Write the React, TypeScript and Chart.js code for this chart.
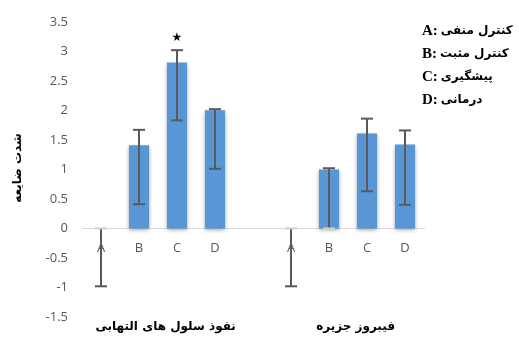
import React, { useEffect, useRef } from "react";
import { Chart, registerables } from "chart.js";

Chart.register(...registerables);

const categories = ["A", "B", "C", "D", "", "A", "B", "C", "D"];
const means = [0, 1.41, 2.81, 2.0, null, 0, 1.0, 1.61, 1.42];
const errHigh = [0, 1.67, 3.02, 2.02, null, 0, 1.02, 1.86, 1.66];
const errLow = [-0.98, 0.41, 1.83, 1.01, null, -0.98, 0, 0.63, 0.4];
const starIndex = [2];
const groupLabels = ["نفوذ سلول های التهابی", "فیبروز جزیره"];
const groupCenters = [1.7, 6.7];
const legendKeys = ["A:", "B:", "C:", "D:"];
const legendTexts = ["کنترل منفی", "کنترل مثبت", "پیشگیری", "درمانی"];
const yTitle = "شدت ضایعه";

const decorPlugin = {
  id: "decor",
  beforeDatasetsDraw(chart: any) {
    const ctx = chart.ctx;
    ctx.save();
    ctx.shadowColor = "rgba(0,0,0,0.35)";
    ctx.shadowBlur = 4;
    ctx.shadowOffsetY = 2;
  },
  afterDatasetsDraw(chart: any) {
    const ctx = chart.ctx;
    ctx.restore();
    const xs = chart.scales.x;
    const ys = chart.scales.y;
    ctx.save();
    for (let i = 0; i < categories.length; i++) {
      if (means[i] === null) continue;
      const x = xs.getPixelForValue(i);
      const yH = ys.getPixelForValue(errHigh[i] as number);
      const yL = ys.getPixelForValue(errLow[i] as number);
      ctx.strokeStyle = "#5a5a5a";
      ctx.lineWidth = 2;
      ctx.beginPath();
      ctx.moveTo(x, yH);
      ctx.lineTo(x, yL);
      ctx.stroke();
      const caps = [errHigh[i] as number, errLow[i] as number];
      caps.forEach((v) => {
        const y = ys.getPixelForValue(v);
        ctx.strokeStyle = v === 0 ? "#cfcfcf" : "#5a5a5a";
        ctx.beginPath();
        ctx.moveTo(x - 6, y);
        ctx.lineTo(x + 6, y);
        ctx.stroke();
      });
    }
    // stars
    ctx.fillStyle = "#000";
    ctx.font = "12px 'DejaVu Sans'";
    ctx.textAlign = "center";
    ctx.textBaseline = "middle";
    starIndex.forEach((i) => {
      const x = xs.getPixelForValue(i);
      const y = ys.getPixelForValue(errHigh[i] as number);
      ctx.fillText("★", x, y - 12);
    });
    // group labels
    ctx.font = "bold 12px 'DejaVu Sans'";
    groupLabels.forEach((t, k) => {
      const x = xs.getPixelForValue(groupCenters[k]);
      ctx.fillText(t, x, 327);
    });
    // y title
    ctx.save();
    ctx.translate(18, 168);
    ctx.rotate(-Math.PI / 2);
    ctx.font = "bold 12px 'DejaVu Sans'";
    ctx.fillText(yTitle, 0, 0);
    ctx.restore();
    // legend
    ctx.textAlign = "left";
    legendKeys.forEach((k, i) => {
      const y = 31 + i * 23;
      ctx.font = "bold 15px 'Liberation Serif'";
      ctx.fillText(k, 422, y);
      const w = ctx.measureText(k).width;
      ctx.font = "bold 12px 'DejaVu Sans'";
      ctx.fillText(legendTexts[i], 422 + w + 3, y);
    });
    ctx.restore();
  },
};

export default function App() {
  const ref = useRef<HTMLCanvasElement>(null);
  useEffect(() => {
    const chart = new Chart(ref.current as HTMLCanvasElement, {
      type: "bar",
      data: {
        labels: categories,
        datasets: [
          {
            data: means as any,
            backgroundColor: "#5896d6",
            borderWidth: 0,
            barPercentage: 0.53,
            categoryPercentage: 1,
          },
        ],
      },
      options: {
        animation: false,
        responsive: true,
        maintainAspectRatio: false,
        layout: { padding: { top: 20, bottom: 26, right: 95, left: 0 } },
        plugins: { legend: { display: false }, tooltip: { enabled: false } },
        scales: {
          x: {
            position: { y: 0 } as any,
            grid: { display: false, drawTicks: false },
            border: { color: "#d9d9d9", width: 1 },
            ticks: {
              color: "#595959",
              font: { family: "'Open Sans'", size: 13 },
              padding: 12,
            },
          },
          y: {
            min: -1.5,
            max: 3.5,
            grid: { display: false, drawTicks: false },
            border: { display: false },
            ticks: {
              stepSize: 0.5,
              color: "#595959",
              font: { family: "'Open Sans'", size: 13 },
              padding: 14,
              callback: (v: any) => String(Number(v)),
            },
            afterFit: (s: any) => {
              s.width = 82;
            },
          },
        },
      },
      plugins: [decorPlugin],
    });
    return () => chart.destroy();
  }, []);
  return (
    <div style={{ position: "absolute", left: 0, top: 0, width: 519, height: 343 }}>
      <canvas ref={ref} />
    </div>
  );
}
